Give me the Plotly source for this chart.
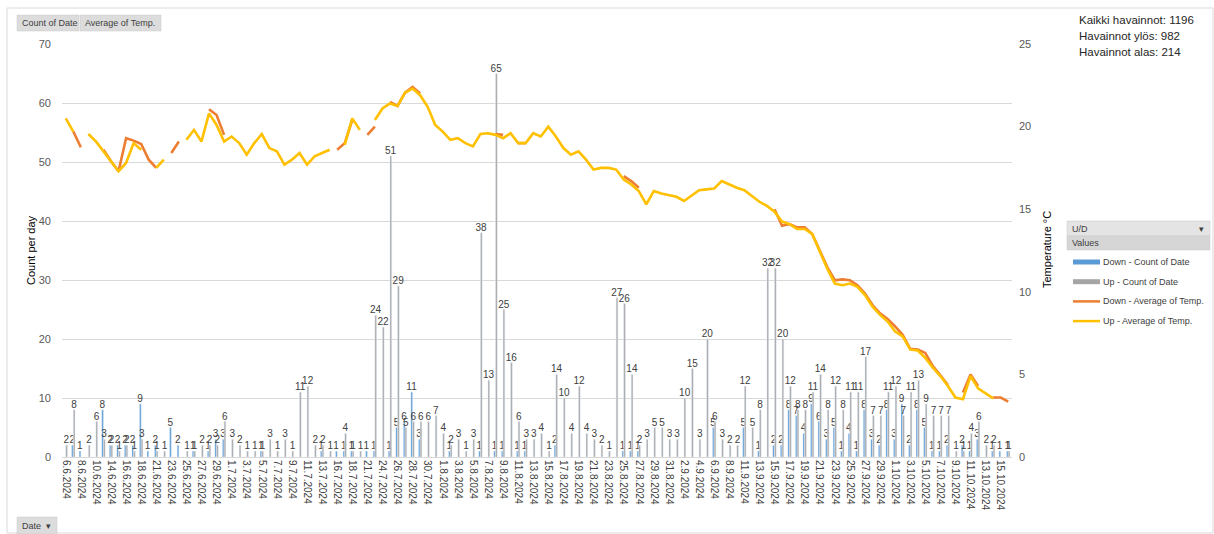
import plotly.graph_objects as go

# categories (only days with observations)
dates = [
    "6.6.2024", "7.6.2024", "8.6.2024", "9.6.2024", "10.6.2024", "12.6.2024", "14.6.2024", "15.6.2024",
    "16.6.2024", "17.6.2024", "18.6.2024", "19.6.2024", "21.6.2024", "22.6.2024", "23.6.2024", "24.6.2024",
    "25.6.2024", "26.6.2024", "27.6.2024", "28.6.2024", "29.6.2024", "30.6.2024",
    "1.7.2024", "2.7.2024", "3.7.2024", "4.7.2024", "5.7.2024", "6.7.2024", "7.7.2024", "8.7.2024",
    "9.7.2024", "10.7.2024", "11.7.2024", "12.7.2024", "13.7.2024", "15.7.2024", "16.7.2024", "17.7.2024",
    "18.7.2024", "20.7.2024", "21.7.2024", "23.7.2024", "24.7.2024", "25.7.2024", "26.7.2024", "27.7.2024",
    "28.7.2024", "29.7.2024", "30.7.2024", "31.7.2024",
    "1.8.2024", "2.8.2024", "3.8.2024", "4.8.2024", "5.8.2024", "6.8.2024", "7.8.2024", "8.8.2024",
    "9.8.2024", "10.8.2024", "11.8.2024", "12.8.2024", "13.8.2024", "14.8.2024", "15.8.2024", "16.8.2024",
    "17.8.2024", "18.8.2024", "19.8.2024", "20.8.2024", "21.8.2024", "22.8.2024", "23.8.2024", "24.8.2024",
    "25.8.2024", "26.8.2024", "27.8.2024", "28.8.2024", "29.8.2024", "30.8.2024", "31.8.2024",
    "1.9.2024", "2.9.2024", "3.9.2024", "4.9.2024", "5.9.2024", "6.9.2024", "7.9.2024", "8.9.2024",
    "10.9.2024", "11.9.2024", "12.9.2024", "13.9.2024", "14.9.2024", "15.9.2024", "16.9.2024", "17.9.2024",
    "18.9.2024", "19.9.2024", "20.9.2024", "21.9.2024", "22.9.2024", "23.9.2024", "24.9.2024", "25.9.2024",
    "26.9.2024", "27.9.2024", "28.9.2024", "29.9.2024", "30.9.2024",
    "1.10.2024", "2.10.2024", "3.10.2024", "4.10.2024", "5.10.2024", "6.10.2024", "7.10.2024", "8.10.2024",
    "9.10.2024", "10.10.2024", "11.10.2024", "12.10.2024", "13.10.2024", "14.10.2024", "15.10.2024",
    "16.10.2024",
]

N = None
down_count = [
    N, 2, 1, N, N, 8, 2, 2, 2, 2,
    9, 1, 2, N, 5, 2, N, 1, N, 1,
    3, 3, N, N, N, N, 1, N, N, N,
    N, N, N, N, 1, N, 1, 1, 1, N,
    1, 1, N, 1, 5, 6, 11, 3, N, N,
    N, 1, N, N, N, 1, N, 1, 1, N,
    1, 1, N, N, N, 2, N, N, N, N,
    N, N, N, N, 1, 1, 1, N, N, N,
    N, N, N, N, N, N, 5, N, N, N,
    5, N, 1, N, 2, 2, 8, 7, 4, 9,
    6, 3, 5, 1, 4, 1, 8, 3, 2, 8,
    3, 9, 2, 8, 5, 1, 1, 2, N, 2,
    1, 3, N, 1, 1, 1,
]
up_count = [
    2, 8, N, 2, 6, 3, 2, 1, 2, 1,
    3, N, 1, 1, N, N, 1, 1, 2, 2,
    2, 6, 3, 2, 1, 1, 1, 3, 1, 3,
    1, 11, 12, 2, 2, 1, N, 4, 1, 1,
    N, 24, 22, 51, 29, 5, 6, 6, 6, 7,
    4, 2, 3, 1, 3, 38, 13, 65, 25, 16,
    6, 3, 3, 4, 1, 14, 10, 4, 12, 4,
    3, 2, 1, 27, 26, 14, 2, 3, 5, 5,
    3, 3, 10, 15, 3, 20, 6, 3, 2, 2,
    12, 5, 8, 32, 32, 20, 12, 8, 8, 11,
    14, 8, 12, 8, 11, 11, 17, 7, 7, 11,
    12, 7, 11, 13, 9, 7, 7, 7, 1, 1,
    4, 6, 2, 2, N, 1,
]
down_temp = [
    N, 19.7, 18.75, N, N, 18.6, 17.9, 17.3, 19.3, 19.15,
    18.95, 18.0, 17.5, N, 18.4, 19.1, N, 19.8, N, 21.05,
    20.7, 19.5, N, N, N, N, 19.5, N, N, N,
    N, N, N, N, 18.4, N, 18.6, 19.0, 20.4, N,
    19.5, 20.0, N, 21.5, 21.25, 22.05, 22.4, 22.0, N, N,
    N, 19.2, N, N, N, 19.5, N, 19.55, 19.5, N,
    19.0, 19.0, N, N, N, 19.4, N, N, N, N,
    N, N, N, N, 17.0, 16.7, 16.3, N, N, N,
    N, N, N, N, N, N, 16.3, N, N, N,
    16.2, N, 15.4, N, 15.0, 14.0, 14.1, 13.9, 13.9, 13.5,
    12.5, 11.5, 10.7, 10.75, 10.7, 10.4, 9.9, 9.2, 8.7, 8.35,
    7.9, 7.4, 6.55, 6.5, 6.3, 5.5, 4.95, 4.35, N, 3.9,
    5.0, 4.3, N, 3.6, 3.6, 3.35,
]
up_temp = [
    20.5, 19.7, N, 19.55, 19.1, 18.5, 17.9, 17.3, 17.8, 19.0,
    18.6, N, 17.5, 18.0, N, N, 19.2, 19.8, 19.1, 20.8,
    20.1, 19.1, 19.4, 19.0, 18.3, 19.0, 19.55, 18.7, 18.5, 17.7,
    18.0, 18.4, 17.7, 18.2, 18.4, 18.6, N, 18.9, 20.5, 19.8,
    N, 20.4, 21.1, 21.4, 21.25, 22.05, 22.3, 21.9, 21.2, 20.1,
    19.7, 19.2, 19.3, 19.0, 18.8, 19.55, 19.6, 19.5, 19.3, 19.6,
    19.0, 19.0, 19.6, 19.4, 20.0, 19.4, 18.7, 18.3, 18.5, 18.0,
    17.4, 17.5, 17.5, 17.4, 16.8, 16.5, 16.1, 15.3, 16.1, 15.95,
    15.85, 15.75, 15.5, 15.85, 16.15, 16.2, 16.25, 16.7, 16.5, 16.3,
    16.15, 15.8, 15.45, 15.2, 14.85, 14.25, 14.1, 13.8, 13.8, 13.5,
    12.4, 11.4, 10.5, 10.4, 10.5, 10.3, 9.8, 9.1, 8.6, 8.2,
    7.6, 7.3, 6.5, 6.45, 6.0, 5.4, 4.9, 4.3, 3.6, 3.5,
    4.9, 4.15, 3.85, 3.55, N, 3.4,
]

summary = ["Kaikki havainnot: 1196", "Havainnot ylös: 982", "Havainnot alas: 214"]

BLUE, GRAY, ORANGE, YELLOW = "#5B9BD5", "#A5A5A5", "#ED7D31", "#FFC000"
FONT = "Liberation Sans"

# plot area in pixels
W_PX, H_PX = 1214, 534
L, R, T, B = 62, 1012, 44, 457


def px(x):
    return (x - L) / (R - L)


def py(y):
    return (B - y) / (B - T)


def lbl(vals):
    return ["" if v is None else str(v) for v in vals]


fig = go.Figure()
fig.add_trace(go.Bar(x=dates, y=down_count, name="Down - Count of Date", marker_color=BLUE,
                     text=lbl(down_count), textposition="outside", constraintext="none",
                     cliponaxis=False, textfont=dict(size=10, color="#404040", family=FONT)))
fig.add_trace(go.Bar(x=dates, y=up_count, name="Up - Count of Date", marker_color=GRAY,
                     text=lbl(up_count), textposition="outside", constraintext="none",
                     cliponaxis=False, textfont=dict(size=10, color="#404040", family=FONT)))
fig.add_trace(go.Scatter(x=dates, y=down_temp, name="Down - Average of Temp.", yaxis="y2",
                         mode="lines", line=dict(color=ORANGE, width=2.6), connectgaps=False))
fig.add_trace(go.Scatter(x=dates, y=up_temp, name="Up - Average of Temp.", yaxis="y2",
                         mode="lines", line=dict(color=YELLOW, width=2.6), connectgaps=False))

shapes = []
ann = []

# chart border
shapes.append(dict(type="rect", xref="paper", yref="paper", x0=px(7), x1=px(1213), y0=py(533), y1=py(8),
                   line=dict(color="#D9D9D9", width=1), layer="below"))


# pivot field buttons
def button(x0, x1, y0, y1, text, fill="#DCDCDC", arrow=False, size=9):
    shapes.append(dict(type="rect", xref="paper", yref="paper", x0=px(x0), x1=px(x1), y0=py(y1), y1=py(y0),
                       fillcolor=fill, line=dict(color="#C8C8C8", width=0.5)))
    ann.append(dict(xref="paper", yref="paper", x=px(x0 + 3), y=py((y0 + y1) / 2), text=text,
                    showarrow=False, xanchor="left", yanchor="middle",
                    font=dict(size=size, color="#404040", family=FONT)))
    if arrow:
        ann.append(dict(xref="paper", yref="paper", x=px(x1 - 4), y=py((y0 + y1) / 2), text="▾",
                        showarrow=False, xanchor="right", yanchor="middle",
                        font=dict(size=9, color="#404040", family=FONT)))


button(17, 79, 15, 31, "Count of Date")
button(80, 161, 15, 31, "Average of Temp.")
button(17, 57, 517, 534, "Date", arrow=True)
button(1067, 1210, 221, 236, "U/D", fill="#E4E4E4", arrow=True)
button(1067, 1210, 236, 250, "Values", fill="#D6D6D6")

# legend items
leg = [("Down - Count of Date", BLUE, "bar"), ("Up - Count of Date", GRAY, "bar"),
       ("Down - Average of Temp.", ORANGE, "line"), ("Up - Average of Temp.", YELLOW, "line")]
for k, (name, col, kind) in enumerate(leg):
    yc = 262 + k * 19.7
    if kind == "bar":
        shapes.append(dict(type="rect", xref="paper", yref="paper", x0=px(1073), x1=px(1100),
                           y0=py(yc + 2.5), y1=py(yc - 2.5), fillcolor=col, line=dict(width=0)))
    else:
        shapes.append(dict(type="line", xref="paper", yref="paper", x0=px(1073), x1=px(1100),
                           y0=py(yc), y1=py(yc), line=dict(color=col, width=2.5)))
    ann.append(dict(xref="paper", yref="paper", x=px(1101), y=py(yc), text=name, showarrow=False,
                    xanchor="left", yanchor="middle", font=dict(size=9, color="#404040", family=FONT)))

# summary text
for k, s in enumerate(summary):
    ann.append(dict(xref="paper", yref="paper", x=px(1077), y=py(20 + k * 16), text=s, showarrow=False,
                    xanchor="left", yanchor="middle", font=dict(size=11.5, color="#262626", family=FONT)))

# axis titles
ann.append(dict(xref="paper", yref="paper", x=px(31), y=py(250), text="Count per day", showarrow=False,
                textangle=-90, xanchor="center", yanchor="middle",
                font=dict(size=11, color="#000000", family=FONT)))
ann.append(dict(xref="paper", yref="paper", x=px(1047), y=py(250), text="Temperature °C", showarrow=False,
                textangle=-90, xanchor="center", yanchor="middle",
                font=dict(size=11, color="#000000", family=FONT)))

fig.update_layout(
    width=W_PX, height=H_PX,
    margin=dict(l=L, r=W_PX - R, t=T, b=H_PX - B, pad=0),
    paper_bgcolor="white", plot_bgcolor="white",
    barmode="group", bargap=0.55, bargroupgap=0,
    showlegend=False,
    font=dict(family=FONT, color="#595959", size=10),
    xaxis=dict(type="category", tickvals=dates[::2], ticktext=dates[::2], tickangle=90,
               tickfont=dict(size=10, color="#404040"), showgrid=False, showline=True,
               linecolor="#D9D9D9", ticks=""),
    yaxis=dict(range=[0, 70], dtick=10, showgrid=True, gridcolor="#D9D9D9", zeroline=False,
               tickfont=dict(size=11, color="#595959"), ticks="", ticklabelstandoff=10),
    yaxis2=dict(range=[0, 25], dtick=5, overlaying="y", side="right", showgrid=False, zeroline=False,
                tickfont=dict(size=11, color="#595959"), ticks="", ticklabelstandoff=6),
    shapes=shapes, annotations=ann,
)

fig.write_html("out.html", config={"displayModeBar": False},
               post_script="document.body.style.margin='0';document.body.style.overflow='hidden';")
